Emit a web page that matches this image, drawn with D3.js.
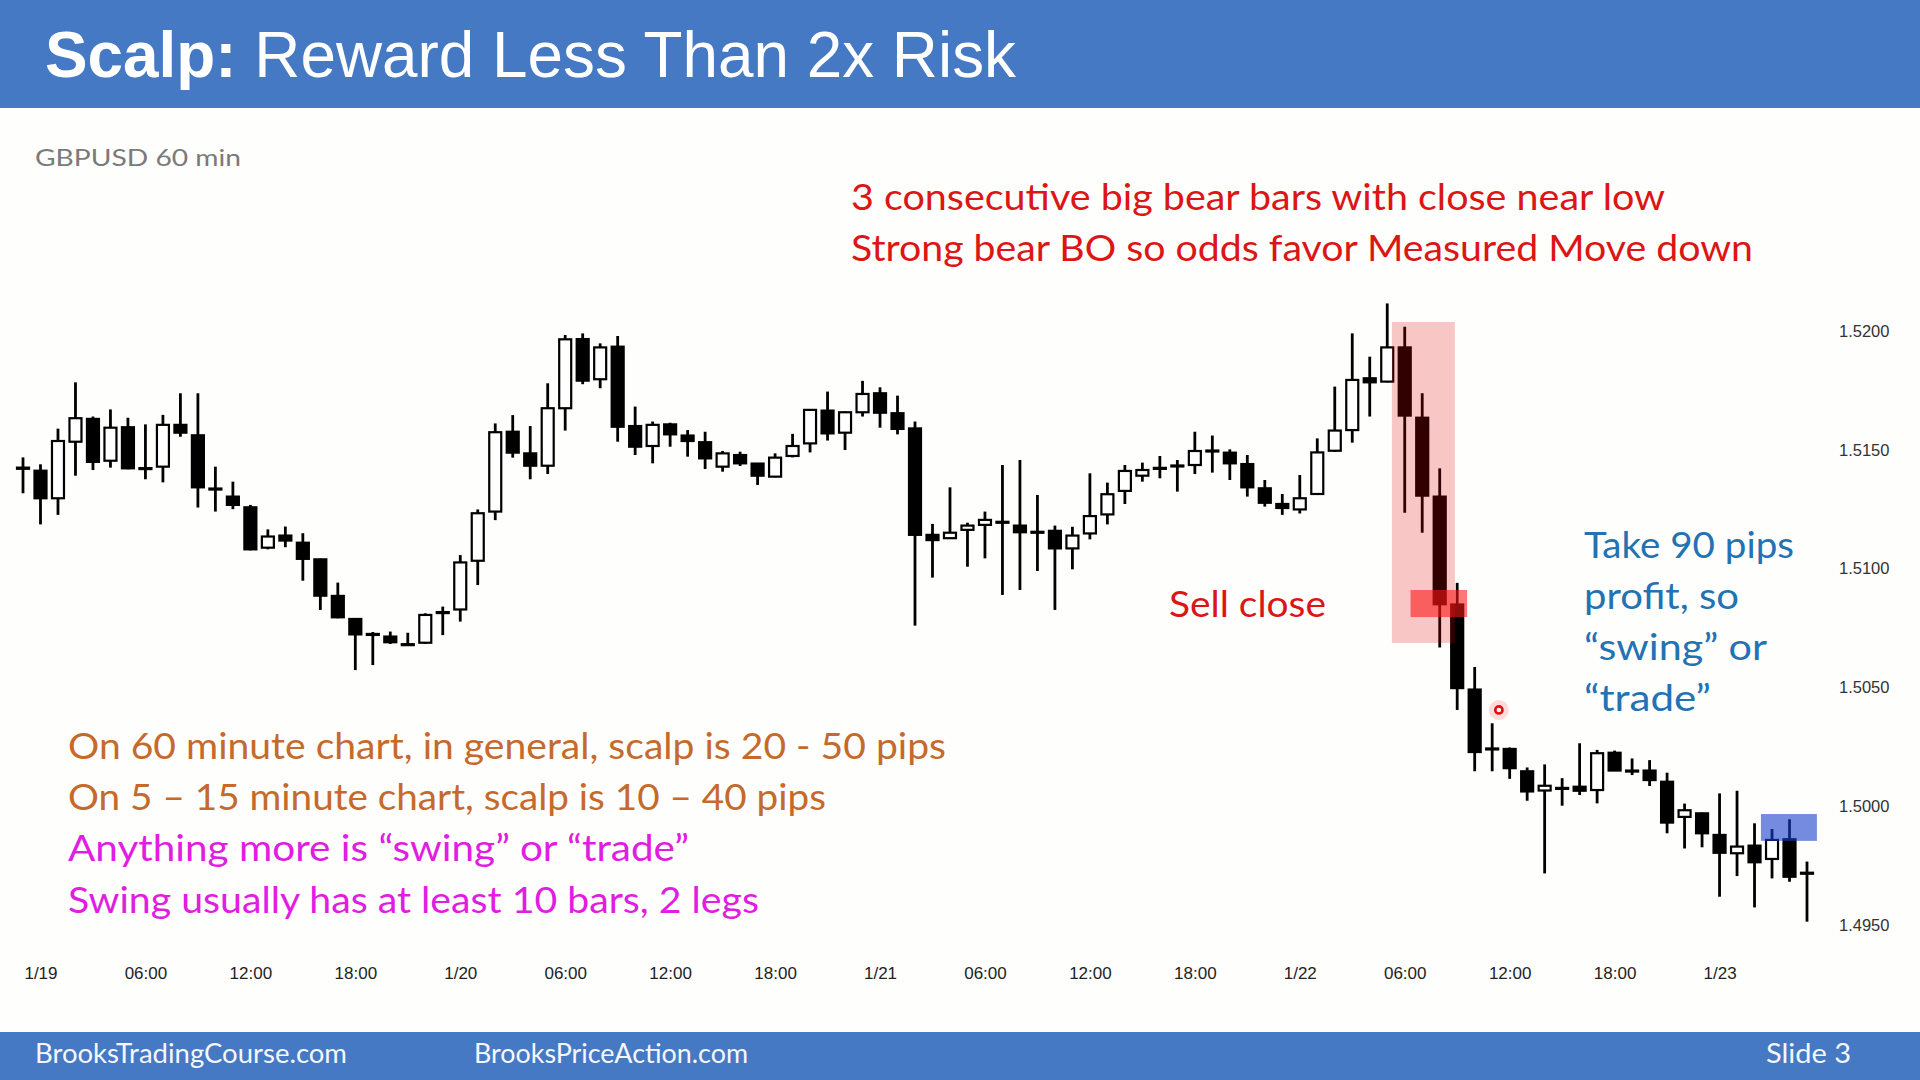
<!DOCTYPE html>
<html>
<head>
<meta charset="utf-8">
<script src="https://cdn.jsdelivr.net/npm/d3@7/dist/d3.min.js"></script>
<style>
  html, body { margin: 0; padding: 0; background: #fefefd; }
  svg { display: block; }
</style>
</head>
<body>
<svg id="chart" width="1920" height="1080"></svg>
<script>
// ---------------- DATA (GBPUSD 60 min, 1/18 23:00 .. 1/23 05:00) ----------------
const firstBar = Date.UTC(2015, 0, 18, 23);
const lastBar  = Date.UTC(2015, 0, 23, 5);

const open = [
  1.51425,1.51412,1.51296,1.51534,1.51630,1.51454,1.51595,1.51423,1.51429,1.51605,
  1.51561,1.51337,1.51303,1.51258,1.51088,1.51139,1.51109,1.51039,1.50885,1.50788,
  1.50725,1.50714,1.50682,1.50688,1.50817,1.50828,1.51033,1.51240,1.51576,1.51485,
  1.51433,1.51675,1.51966,1.51797,1.51934,1.51600,1.51516,1.51607,1.51560,1.51532,
  1.51429,1.51478,1.51442,1.51387,1.51474,1.51527,1.51665,1.51572,1.51658,1.51738,
  1.51654,1.51590,1.51142,1.51128,1.51163,1.51184,1.51197,1.51181,1.51155,1.51159,
  1.51085,1.51148,1.51228,1.51327,1.51391,1.51424,1.51434,1.51436,1.51497,1.51488,
  1.51440,1.51338,1.51272,1.51249,1.51314,1.51496,1.51583,1.51801,1.51787,1.51931,
  1.51635,1.51303,1.50849,1.50491,1.50243,1.50241,1.50147,1.50066,1.50077,1.50082,
  1.50068,1.50225,1.50150,1.50150,1.50103,1.49955,1.49970,1.49879,1.49802,1.49834,
  1.49778,1.49861,1.49720
];
const high = [
  1.51468,1.51439,1.51589,1.51784,1.51640,1.51670,1.51635,1.51607,1.51647,1.51738,
  1.51738,1.51429,1.51366,1.51268,1.51165,1.51177,1.51149,1.51042,1.50941,1.50791,
  1.50733,1.50735,1.50730,1.50812,1.50840,1.51057,1.51249,1.51611,1.51646,1.51600,
  1.51780,1.51983,1.51990,1.51948,1.51979,1.51682,1.51619,1.51614,1.51583,1.51576,
  1.51495,1.51492,1.51443,1.51485,1.51567,1.51670,1.51745,1.51661,1.51790,1.51763,
  1.51728,1.51619,1.51188,1.51342,1.51193,1.51240,1.51436,1.51457,1.51310,1.51181,
  1.51176,1.51401,1.51362,1.51436,1.51446,1.51474,1.51457,1.51576,1.51560,1.51502,
  1.51478,1.51373,1.51314,1.51394,1.51548,1.51766,1.51990,1.51892,1.52116,1.52018,
  1.51738,1.51422,1.50940,1.50586,1.50349,1.50247,1.50163,1.50176,1.50118,1.50265,
  1.50237,1.50234,1.50201,1.50194,1.50141,1.50011,1.49973,1.50054,1.50065,1.49928,
  1.49904,1.49945,1.49767
];
const low = [
  1.51317,1.51186,1.51226,1.51391,1.51415,1.51425,1.51418,1.51376,1.51363,1.51555,
  1.51257,1.51240,1.51250,1.51077,1.51081,1.51090,1.50949,1.50826,1.50791,1.50573,
  1.50594,1.50683,1.50678,1.50683,1.50720,1.50777,1.50931,1.51204,1.51467,1.51376,
  1.51398,1.51581,1.51776,1.51759,1.51534,1.51478,1.51443,1.51513,1.51471,1.51419,
  1.51408,1.51432,1.51352,1.51384,1.51468,1.51489,1.51539,1.51499,1.51640,1.51593,
  1.51565,1.50760,1.50962,1.51125,1.51008,1.51043,1.50889,1.50910,1.50990,1.50826,
  1.50997,1.51123,1.51186,1.51272,1.51366,1.51380,1.51324,1.51398,1.51404,1.51373,
  1.51303,1.51261,1.51226,1.51232,1.51313,1.51492,1.51530,1.51640,1.51784,1.51235,
  1.51151,1.50668,1.50405,1.50147,1.50147,1.50115,1.50023,1.49717,1.50002,1.50047,
  1.50012,1.50148,1.50131,1.50085,1.49886,1.49822,1.49827,1.49619,1.49706,1.49574,
  1.49696,1.49682,1.49514
];
const close = [
  1.51420,1.51296,1.51537,1.51633,1.51449,1.51593,1.51422,1.51419,1.51605,1.51572,
  1.51342,1.51333,1.51268,1.51081,1.51135,1.51118,1.51041,1.50886,1.50795,1.50723,
  1.50721,1.50690,1.50680,1.50805,1.50813,1.51026,1.51233,1.51574,1.51488,1.51433,
  1.51675,1.51965,1.51791,1.51931,1.51597,1.51513,1.51605,1.51565,1.51537,1.51464,
  1.51485,1.51443,1.51391,1.51467,1.51516,1.51668,1.51569,1.51658,1.51735,1.51656,
  1.51588,1.51142,1.51120,1.51151,1.51181,1.51205,1.51193,1.51153,1.51151,1.51085,
  1.51139,1.51221,1.51313,1.51411,1.51415,1.51420,1.51432,1.51495,1.51493,1.51443,
  1.51342,1.51277,1.51255,1.51296,1.51489,1.51581,1.51794,1.51784,1.51931,1.51644,
  1.51307,1.50850,1.50497,1.50228,1.50239,1.50160,1.50062,1.50086,1.50073,1.50065,
  1.50223,1.50150,1.50146,1.50110,1.49931,1.49983,1.49886,1.49804,1.49830,1.49764,
  1.49858,1.49703,1.49716
];
const priceTicks = [1.4950, 1.5000, 1.5050, 1.5100, 1.5150, 1.5200];

// shaded zones (times / prices)
const bearZone  = { from: Date.UTC(2015,0,22,5,16), to: Date.UTC(2015,0,22,8,52), top: 1.52038, bottom: 1.50687 };
const sellZone  = { from: Date.UTC(2015,0,22,6,20), to: Date.UTC(2015,0,22,9,34), top: 1.50910, bottom: 1.50796 };
const targetZone= { from: Date.UTC(2015,0,23,2,22), to: Date.UTC(2015,0,23,5,34), top: 1.49967, bottom: 1.49854 };
const cursorPt  = { t: Date.UTC(2015,0,22,11,23), p: 1.50405 };

// ---------------- BUILD ----------------
const svg = d3.select("#chart");
const bars = open.map((o, i) => ({
  t: d3.utcHour.offset(new Date(firstBar), i),
  o, h: high[i], l: low[i], c: close[i]
}));

const x = d3.scaleUtc().domain([new Date(firstBar), new Date(lastBar)]).range([23, 1807]);
const y = d3.scaleLinear().domain([1.4950, 1.5200]).range([925, 331]);

// background
svg.append("rect").attr("width", 1920).attr("height", 1080).attr("fill", "#fefefd");

// header band
svg.append("rect").attr("x", 0).attr("y", 0).attr("width", 1920).attr("height", 108).attr("fill", "#4579c4");
const title = svg.append("text").attr("x", 45).attr("y", 77)
  .attr("font-family", "'Liberation Sans', Arial, sans-serif").attr("font-size", 64).attr("fill", "#ffffff")
  .attr("textLength", 971).attr("lengthAdjust", "spacingAndGlyphs");
title.append("tspan").attr("font-weight", "bold").text("Scalp:");
title.append("tspan").text(" Reward Less Than 2x Risk");

// footer band
svg.append("rect").attr("x", 0).attr("y", 1032).attr("width", 1920).attr("height", 48).attr("fill", "#4579c4");
const footer = [
  { text: "BrooksTradingCourse.com", x: 35, w: 312 },
  { text: "BrooksPriceAction.com", x: 474, w: 274 },
  { text: "Slide  3", x: 1766, w: 85 }
];
svg.selectAll("text.footer").data(footer).join("text").attr("class", "footer")
  .attr("x", d => d.x).attr("y", 1063)
  .attr("font-family", "Lato, 'Open Sans', sans-serif").attr("font-size", 26)
  .attr("fill", "#f5f7fb")
  .attr("textLength", d => d.w).attr("lengthAdjust", "spacingAndGlyphs")
  .text(d => d.text);

// instrument label
svg.append("text").attr("x", 35).attr("y", 166)
  .attr("font-family", "Lato, 'Open Sans', sans-serif").attr("font-size", 24)
  .attr("fill", "#7a7a7a").attr("textLength", 206).attr("lengthAdjust", "spacingAndGlyphs")
  .text("GBPUSD 60 min");

// axes
const xTicks = d3.utcHour.every(6).range(new Date(Date.UTC(2015,0,19,0)), new Date(Date.UTC(2015,0,23,1)));
const xAxis = d3.axisBottom(x).tickValues(xTicks).tickSize(0).tickPadding(7)
  .tickFormat(d => d.getUTCHours() === 0 ? `${d.getUTCMonth()+1}/${d.getUTCDate()}` : d3.utcFormat("%H:%M")(d));
const gx = svg.append("g").attr("transform", "translate(0,960)").call(xAxis);
gx.select(".domain").remove();
gx.selectAll("text").attr("font-family", "'Liberation Sans', Arial, sans-serif").attr("font-size", 17).attr("fill", "#222");

const yAxis = d3.axisRight(y).tickValues(priceTicks).tickSize(0).tickPadding(0).tickFormat(d3.format(".4f"));
const gy = svg.append("g").attr("transform", "translate(1839,0)").call(yAxis);
gy.select(".domain").remove();
gy.selectAll("text").attr("font-family", "'Liberation Sans', Arial, sans-serif").attr("font-size", 16.5).attr("fill", "#333");

// candles
const bodyW = 12;
const g = svg.append("g");
const candle = g.selectAll("g.candle").data(bars).join("g").attr("class", "candle");
candle.append("line")
  .attr("x1", d => x(d.t)).attr("x2", d => x(d.t))
  .attr("y1", d => y(d.h)).attr("y2", d => y(d.l))
  .attr("stroke", "#000").attr("stroke-width", 2.8);
candle.append("rect")
  .attr("x", d => x(d.t) - bodyW / 2)
  .attr("width", bodyW)
  .attr("y", d => y(Math.max(d.o, d.c)))
  .attr("height", d => Math.max(1, Math.abs(y(d.o) - y(d.c))))
  .attr("fill", d => d.c > d.o ? "#ffffff" : "#000000")
  .attr("stroke", "#000").attr("stroke-width", 2.2);

// zones (drawn above candles, translucent)
function zone(z, fill) {
  svg.append("rect")
    .attr("x", x(new Date(z.from))).attr("width", x(new Date(z.to)) - x(new Date(z.from)))
    .attr("y", y(z.top)).attr("height", y(z.bottom) - y(z.top))
    .attr("fill", fill);
}
zone(bearZone, "rgba(222,0,0,0.22)");
zone(sellZone, "rgba(250,20,20,0.58)");
zone(targetZone, "rgba(25,62,205,0.6)");

// cursor dot
svg.append("circle").attr("cx", x(new Date(cursorPt.t))).attr("cy", y(cursorPt.p)).attr("r", 10)
  .attr("fill", "rgba(255,60,60,0.18)");
svg.append("circle").attr("cx", x(new Date(cursorPt.t))).attr("cy", y(cursorPt.p)).attr("r", 3.6)
  .attr("fill", "#fff").attr("stroke", "#e01010").attr("stroke-width", 2.6);

// annotations
const notes = [
  { text: "3 consecutive big bear bars with close near low", x: 851, y: 210, w: 814, c: "#dc1515" },
  { text: "Strong bear BO so odds favor Measured Move down", x: 851, y: 261, w: 902, c: "#dc1515" },
  { text: "Sell close", x: 1169, y: 617, w: 157, c: "#dc1515" },
  { text: "Take 90 pips", x: 1584, y: 558, w: 210, c: "#2272b4" },
  { text: "profit, so", x: 1584, y: 609, w: 155, c: "#2272b4" },
  { text: "\u201Cswing\u201D or", x: 1584, y: 660, w: 183, c: "#2272b4" },
  { text: "\u201Ctrade\u201D", x: 1584, y: 711, w: 127, c: "#2272b4" },
  { text: "On 60 minute chart, in general, scalp is 20 - 50 pips", x: 68, y: 759, w: 878, c: "#c66a2c" },
  { text: "On 5 \u2013 15 minute chart, scalp is 10 \u2013 40 pips", x: 68, y: 810, w: 758, c: "#c66a2c" },
  { text: "Anything more is \u201Cswing\u201D or \u201Ctrade\u201D", x: 68, y: 861, w: 621, c: "#e01de0" },
  { text: "Swing usually has at least 10 bars, 2 legs", x: 68, y: 913, w: 691, c: "#e01de0" }
];
svg.selectAll("text.note").data(notes).join("text").attr("class", "note")
  .attr("x", d => d.x).attr("y", d => d.y)
  .attr("font-family", "Lato, 'Open Sans', sans-serif").attr("font-size", 36)
  .attr("fill", d => d.c)
  .attr("textLength", d => d.w).attr("lengthAdjust", "spacingAndGlyphs")
  .text(d => d.text);
</script>
</body>
</html>
